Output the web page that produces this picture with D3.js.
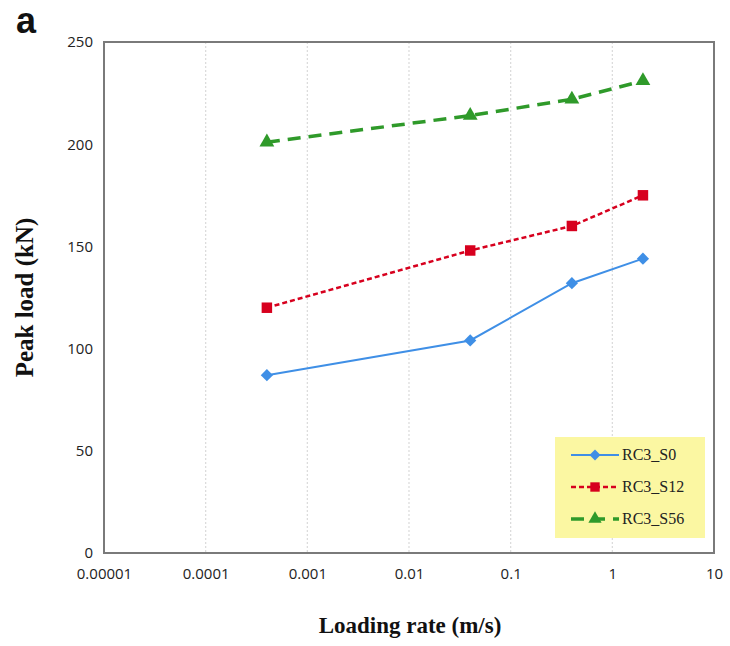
<!DOCTYPE html>
<html>
<head>
<meta charset="utf-8">
<script src="https://cdn.jsdelivr.net/npm/d3@7"></script>
<style>
  body { margin: 0; background: #fff; }
</style>
</head>
<body>
<div id="chart"></div>
<script>
// data
var rates = [0.0004, 0.04, 0.4, 2];
var s0 = [87, 104, 132, 144];
var s12 = [120, 148, 160, 175];
var s56 = [201, 214, 222, 231];
var xTicks = [0.00001, 0.0001, 0.001, 0.01, 0.1, 1, 10];
var xTickLabels = ['0.00001', '0.0001', '0.001', '0.01', '0.1', '1', '10'];
var yTicks = [0, 50, 100, 150, 200, 250];
var seriesNames = ['RC3_S0', 'RC3_S12', 'RC3_S56'];

var width = 730, height = 646;
var m = { left: 104, right: 16, top: 42, bottom: 93 };
var w = width - m.left - m.right;
var h = height - m.top - m.bottom;

var svg = d3.select('#chart').append('svg')
  .attr('width', width)
  .attr('height', height);

var x = d3.scaleLog().domain([0.00001, 10]).range([0, w]);
var y = d3.scaleLinear().domain([0, 250]).range([h, 0]);

var g = svg.append('g').attr('transform', 'translate(' + m.left + ',' + m.top + ')');

// vertical dotted grid
g.selectAll('.grid').data(xTicks.slice(1, -1)).enter().append('line')
  .attr('x1', function (d) { return x(d); })
  .attr('x2', function (d) { return x(d); })
  .attr('y1', 0).attr('y2', h)
  .attr('stroke', '#dadada')
  .attr('stroke-width', 1.2)
  .attr('stroke-dasharray', '2,2');

// x axis labels
var xAxis = d3.axisBottom(x).tickValues(xTicks)
  .tickFormat(function (d, i) { return xTickLabels[i]; })
  .tickSize(0).tickPadding(15);
var gx = g.append('g').attr('transform', 'translate(0,' + h + ')').call(xAxis);
gx.select('.domain').remove();
gx.selectAll('text').attr('font-family', 'Open Sans, sans-serif').attr('font-size', 15).attr('fill', '#222');

var yAxis = d3.axisLeft(y).tickValues(yTicks).tickSize(0).tickPadding(11);
var gy = g.append('g').call(yAxis);
gy.select('.domain').remove();
gy.selectAll('text').attr('font-family', 'Open Sans, sans-serif').attr('font-size', 15).attr('fill', '#222');

// plot frame
g.append('rect')
  .attr('width', w).attr('height', h)
  .attr('fill', 'none')
  .attr('stroke', '#7a7a7a')
  .attr('stroke-width', 2);

var series = [
  { name: seriesNames[0], values: s0, color: '#3f8fe6', dash: null, width: 2, shape: d3.symbolSquare, rot: 45, size: 75 },
  { name: seriesNames[1], values: s12, color: '#d7001e', dash: '5,3', width: 2.5, shape: d3.symbolSquare, rot: 0, size: 110 },
  { name: seriesNames[2], values: s56, color: '#2f9a2a', dash: '13,8', width: 3.5, shape: d3.symbolTriangle, rot: 0, size: 95 }
];

var line = d3.line()
  .x(function (d, i) { return x(rates[i]); })
  .y(function (d) { return y(d); });

series.forEach(function (s) {
  g.append('path')
    .attr('d', line(s.values))
    .attr('fill', 'none')
    .attr('stroke', s.color)
    .attr('stroke-width', s.width)
    .attr('stroke-dasharray', s.dash);
  g.selectAll(null).data(s.values).enter().append('path')
    .attr('d', d3.symbol().type(s.shape).size(s.size))
    .attr('transform', function (d, i) {
      return 'translate(' + x(rates[i]) + ',' + y(d) + ') rotate(' + s.rot + ')';
    })
    .attr('fill', s.color);
});

// legend
var lg = svg.append('g').attr('transform', 'translate(555,437)');
lg.append('rect').attr('width', 150).attr('height', 101).attr('fill', '#fbf7a2');
series.forEach(function (s, i) {
  var yy = 18 + i * 32;
  lg.append('line')
    .attr('x1', 16).attr('x2', 64).attr('y1', yy).attr('y2', yy)
    .attr('stroke', s.color).attr('stroke-width', s.width)
    .attr('stroke-dasharray', s.dash);
  lg.append('path')
    .attr('d', d3.symbol().type(s.shape).size(s.size * 0.8))
    .attr('transform', 'translate(40,' + yy + ') rotate(' + s.rot + ')')
    .attr('fill', s.color);
  lg.append('text')
    .attr('x', 67).attr('y', yy + 5)
    .attr('font-family', 'Liberation Serif, serif')
    .attr('font-size', 16)
    .attr('fill', '#222')
    .text(s.name);
});

// titles
svg.append('text')
  .attr('x', 410).attr('y', 633)
  .attr('text-anchor', 'middle')
  .attr('font-family', 'Liberation Serif, serif')
  .attr('font-weight', 'bold')
  .attr('font-size', 23)
  .attr('fill', '#111')
  .text('Loading rate (m/s)');

svg.append('text')
  .attr('transform', 'translate(33,' + (m.top + h / 2) + ') rotate(-90)')
  .attr('text-anchor', 'middle')
  .attr('font-family', 'Liberation Serif, serif')
  .attr('font-weight', 'bold')
  .attr('font-size', 25)
  .attr('fill', '#111')
  .text('Peak load (kN)');

svg.append('text')
  .attr('x', 16).attr('y', 33)
  .attr('font-family', 'Liberation Sans, sans-serif')
  .attr('font-weight', 'bold')
  .attr('font-size', 36)
  .attr('fill', '#111')
  .text('a');
</script>
</body>
</html>
